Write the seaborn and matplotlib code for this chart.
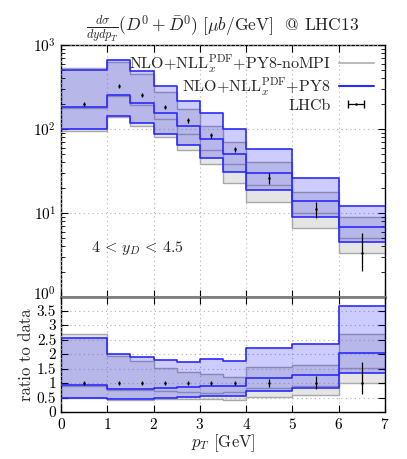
import numpy as np
import matplotlib
matplotlib.use('Agg')
import matplotlib.pyplot as plt
import matplotlib.transforms as mtrans
from matplotlib.lines import Line2D
import seaborn as sns

# bins in pT [GeV]
pt_edges = [0, 1, 1.5, 2, 2.5, 3, 3.5, 4, 5, 6, 7]
pt_centers = [0.5, 1.25, 1.75, 2.25, 2.75, 3.25, 3.75, 4.5, 5.5, 6.5]

# LHCb data + relative uncertainties
lhcb = [200, 327, 256, 183, 127, 84, 57, 26, 11.0, 3.35]
lhcb_up = [0.06, 0.06, 0.06, 0.06, 0.06, 0.06, 0.07, 0.15, 0.24, 0.71]
lhcb_dn = [0.06, 0.06, 0.06, 0.06, 0.06, 0.06, 0.07, 0.14, 0.20, 0.39]

# NLO+NLL + PY8 (blue)
py8_c = [184, 255, 205, 154, 108, 76.4, 50.7, 30.2, 14.0, 6.77]
py8_hi = [508, 657, 484, 329, 218, 153, 99.8, 57.2, 26.0, 12.2]
py8_lo = [100, 144, 118, 88, 64.8, 45.4, 30.8, 19.0, 9.0, 4.46]

# NLO+NLL + PY8 no MPI (gray)
nompi_c = [180, 245, 195, 132, 87.6, 56.3, 38.8, 21.3, 10.0, 5.09]
nompi_hi = [536, 630, 451, 276, 174, 110, 69.5, 40.0, 18.0, 8.98]
nompi_lo = [95, 137, 108, 80.5, 55.9, 38.6, 22.8, 13.5, 6.6, 3.32]

sns.set_theme(style='ticks')
plt.rcParams['font.family'] = 'serif'
plt.rcParams['font.serif'] = ['cmr10', 'DejaVu Serif']
plt.rcParams['mathtext.fontset'] = 'cm'
plt.rcParams['axes.formatter.use_mathtext'] = True
plt.rcParams['font.size'] = 11.5
plt.rcParams['axes.unicode_minus'] = False

def st(v):
    v = np.asarray(v, dtype=float)
    return np.append(v, v[-1])

def band(ax, lo, hi, c, fillc, edgec, alpha, lw, z):
    ax.fill_between(pt_edges, st(lo), st(hi), step='post', color=fillc,
                    alpha=alpha, lw=0, zorder=z)
    for arr in (lo, hi, c):
        sns.lineplot(x=pt_edges, y=st(arr), drawstyle='steps-post', color=edgec,
                     lw=lw, ax=ax, zorder=z + 0.5)

fig = plt.figure(figsize=(4.07, 4.59), dpi=100)
ax1 = fig.add_axes([0.150, 0.353, 0.796, 0.549])
ax2 = fig.add_axes([0.150, 0.1024, 0.796, 0.2506])

data = np.array(lhcb)
ratios = lambda a: np.array(a) / data

# ---- top panel
band(ax1, nompi_lo, nompi_hi, nompi_c, '#e5e5e5', '#a8a8a8', 1.0, 1.0, 2)
band(ax1, py8_lo, py8_hi, py8_c, '#0000ff', '#2a2aff', 0.2, 1.2, 3)
ax1.errorbar(pt_centers, data, yerr=[data * np.array(lhcb_dn), data * np.array(lhcb_up)],
             fmt='o', ms=0.8, color='black', ecolor='black', elinewidth=0.9, capsize=0, zorder=5)

ax1.set_yscale('log')
ax1.set_ylim(1, 1000)
ax1.set_xlim(0, 7)
ax1.set_xticks(range(8))
ax1.set_xticklabels([])
ax1.text(1.65, 3.8, r'$4\,<\,y_D\,<\,4.5$', ha='center', va='center')
ax1.set_title(r'$\frac{d\sigma}{dydp_T}(D^0+\bar{D}^0)\ [\mu b/\mathrm{GeV}]$  @ LHC13',
              fontsize=12.5, pad=5)

# legend
h1 = Line2D([], [], color='#bbbbbb', lw=1.5)
h2 = Line2D([], [], color='#2a2aff', lw=1.5)
h3 = ax1.errorbar([np.nan], [np.nan], xerr=[[1]], fmt='o', ms=0.8, color='black',
                  capsize=3, elinewidth=0.9)
ax1.legend([h1, h2, h3],
           [r'NLO+NLL$_x^{\mathrm{PDF}}$+PY8-noMPI', r'NLO+NLL$_x^{\mathrm{PDF}}$+PY8', 'LHCb'],
           loc='upper right', frameon=False, markerfirst=False, fontsize=11.5,
           handlelength=2.2, handletextpad=0.5, labelspacing=0.05,
           borderaxespad=0.2, bbox_to_anchor=(0.995, 1.01))

# ---- ratio panel
band(ax2, ratios(nompi_lo), ratios(nompi_hi), ratios(nompi_c), '#e5e5e5', '#a8a8a8', 1.0, 1.0, 2)
band(ax2, ratios(py8_lo), ratios(py8_hi), ratios(py8_c), '#0000ff', '#2a2aff', 0.2, 1.2, 3)
ax2.errorbar(pt_centers, np.ones(len(data)), yerr=[lhcb_dn, lhcb_up],
             fmt='o', ms=0.8, color='black', ecolor='black', elinewidth=0.9, capsize=0, zorder=5)
ax2.set_xlim(0, 7)
ax2.set_ylim(0, 3.97)
ax2.set_xticks(range(8))
ax2.set_yticks(np.arange(0, 3.6, 0.5))
ax2.set_yticklabels(['0', '0.5', '1', '1.5', '2', '2.5', '3', '3.5'])
ax2.set_xlabel(r'$p_T$ [GeV]', labelpad=0)
ax2.set_ylabel('ratio to data', labelpad=2)

for ax in (ax1, ax2):
    ax.grid(True, which='major', color='#b0b0b0', ls=(0, (1, 3)), lw=0.8)
    ax.tick_params(which='both', direction='in', top=True, right=True, colors='black')
    ax.tick_params(which='major', length=5, width=0.8)
    ax.tick_params(which='minor', length=3, width=0.6)
    for s in ax.spines.values():
        s.set_color('black')
        s.set_linewidth(1.0)
    ax.set_axisbelow(False)
ax1.set_yticks([1, 10, 100, 1000])
ax1.spines['bottom'].set_color('#808080')
ax1.spines['bottom'].set_linewidth(2)
ax2.spines['top'].set_color('#808080')
ax2.spines['top'].set_linewidth(2)
ax2.tick_params(which='minor', left=False, right=False)

# nudge the 10^0 label up a little so it does not sit on the 3.5 label
fig.canvas.draw()
lbl0 = ax1.get_yticklabels()[0]
lbl0.set_transform(lbl0.get_transform() + mtrans.ScaledTranslation(0, 3 / 72, fig.dpi_scale_trans))

fig.savefig('out.png', dpi=100)
